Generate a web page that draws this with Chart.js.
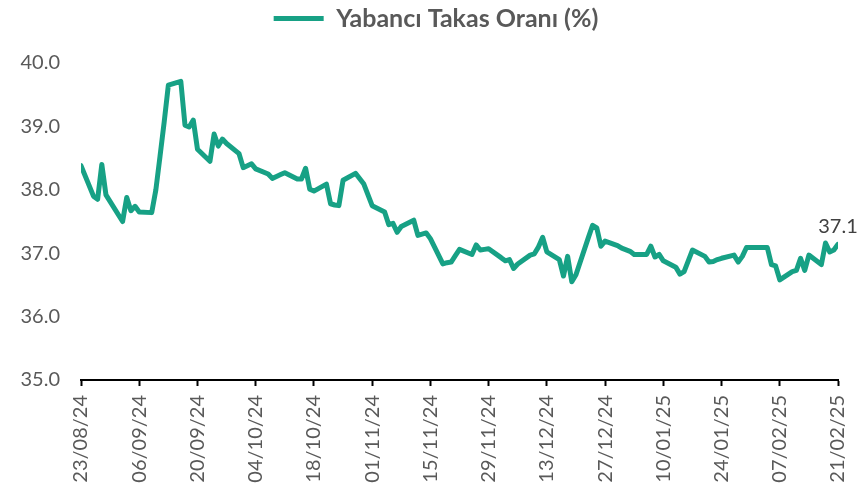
<!DOCTYPE html>
<html>
<head>
<meta charset="utf-8">
<script src="https://cdn.jsdelivr.net/npm/chart.js@4/dist/chart.umd.min.js"></script>
<style>
  html, body { margin: 0; padding: 0; background: #ffffff; }
  #wrap { width: 861px; height: 489px; }
</style>
</head>
<body>
<div id="wrap"><canvas id="c" width="861" height="489"></canvas></div>
<script>
// Day offsets from 23/08/24 (trading days)
const dayOffsets = [
  0,3,4,5,6,10,11,12,13,14,
  17,18,19,20,21,24,25,26,27,28,
  31,32,33,34,35,38,39,40,41,42,
  45,46,47,48,49,52,53,54,55,56,
  59,60,61,62,63,66,68,69,70,73,
  74,75,76,77,80,81,82,83,84,87,
  88,89,90,91,94,95,96,97,98,101,
  102,103,104,105,108,109,110,111,112,115,
  116,117,118,119,122,123,124,125,126,129,
  130,132,133,136,137,138,139,140,143,144,
  145,146,147,150,151,152,153,154,157,158,
  159,160,161,164,165,166,167,168,171,172,
  173,174,175,178,179,180,181,182
];
// Yabancı Takas Oranı (%)
const foreignShare = [
  38.38,37.90,37.85,38.40,37.92,37.50,37.88,37.67,37.74,37.65,
  37.64,38.00,38.53,39.07,39.65,39.71,39.02,38.99,39.10,38.64,
  38.45,38.88,38.69,38.80,38.73,38.57,38.35,38.38,38.41,38.33,
  38.25,38.18,38.21,38.24,38.27,38.17,38.17,38.34,38.01,37.98,
  38.09,37.78,37.76,37.75,38.15,38.26,38.09,37.92,37.75,37.65,
  37.45,37.47,37.33,37.42,37.52,37.28,37.30,37.32,37.23,36.83,
  36.85,36.86,36.96,37.06,36.98,37.13,37.05,37.06,37.07,36.93,
  36.88,36.90,36.76,36.83,36.97,36.99,37.10,37.25,37.02,36.90,
  36.64,36.95,36.55,36.66,37.25,37.44,37.40,37.11,37.19,37.12,
  37.08,37.03,36.98,36.98,37.11,36.94,36.98,36.88,36.78,36.67,
  36.71,36.88,37.05,36.95,36.86,36.87,36.90,36.92,36.97,36.86,
  36.95,37.09,37.09,37.09,37.09,36.82,36.80,36.58,36.71,36.73,
  36.92,36.73,36.97,36.82,37.16,37.02,37.05,37.14
];
const xTickLabels = ['23/08/24','06/09/24','20/09/24','04/10/24','18/10/24','01/11/24','15/11/24',
  '29/11/24','13/12/24','27/12/24','10/01/25','24/01/25','07/02/25','21/02/25'];
const yTicks = [35, 36, 37, 38, 39, 40];
const seriesName = 'Yabancı Takas Oranı (%)';
const lastLabel = '37.1';

const points = dayOffsets.map((d, i) => ({ x: d, y: foreignShare[i] }));
const TEAL = '#17a185';
const FONT = 'Lato, "Open Sans", sans-serif';

const legendSpace = {
  id: 'legendSpace',
  beforeInit(chart) {
    const origFit = chart.legend.fit;
    chart.legend.fit = function () {
      origFit.call(this);
      this.height += 22;
    };
  },
  afterLayout(chart) {
    chart.legend.left += 17;
    chart.legend.right += 17;
  }
};

const endLabel = {
  id: 'endLabel',
  afterDatasetsDraw(chart) {
    const meta = chart.getDatasetMeta(0);
    const pt = meta.data[meta.data.length - 1];
    const ctx = chart.ctx;
    ctx.save();
    ctx.font = '20px ' + FONT;
    ctx.fillStyle = '#404040';
    ctx.textAlign = 'center';
    ctx.textBaseline = 'alphabetic';
    ctx.fillText(lastLabel, pt.x, pt.y - 11);
    ctx.restore();
  }
};

new Chart(document.getElementById('c'), {
  type: 'line',
  data: {
    datasets: [{
      label: seriesName,
      data: points,
      borderColor: TEAL,
      backgroundColor: TEAL,
      borderWidth: 5,
      borderJoinStyle: 'round',
      borderCapStyle: 'round',
      pointRadius: 0,
      tension: 0,
      fill: false
    }]
  },
  options: {
    responsive: false,
    animation: false,
    layout: { padding: { left: 0, right: 23, top: 0, bottom: 0 } },
    plugins: {
      tooltip: { enabled: false },
      legend: {
        display: true,
        position: 'top',
        labels: {
          usePointStyle: true,
          pointStyle: 'line',
          pointStyleWidth: 50,
          boxHeight: 5,
          padding: 6,
          color: '#595959',
          font: { family: FONT, size: 25, weight: 'bold' }
        }
      }
    },
    scales: {
      x: {
        type: 'linear',
        min: 0,
        max: 182,
        afterBuildTicks(scale) {
          scale.ticks = xTickLabels.map((_, i) => ({ value: i * 14 }));
        },
        afterFit(scale) {
          scale.height = 109;
          scale.paddingLeft = 0;
          scale.paddingRight = 0;
        },
        grid: {
          display: true,
          drawOnChartArea: false,
          drawTicks: true,
          tickLength: 6,
          tickWidth: 2,
          tickColor: '#000000',
          color: '#000000'
        },
        border: { display: true, color: '#000000', width: 2 },
        ticks: {
          autoSkip: false,
          maxRotation: 90,
          minRotation: 90,
          padding: 9,
          color: '#595959',
          font: { family: FONT, size: 20 },
          callback(value) {
            const i = Math.round(value / 14);
            return xTickLabels[i];
          }
        }
      },
      y: {
        min: 35,
        max: 40,
        afterBuildTicks(scale) {
          scale.ticks = yTicks.map(v => ({ value: v }));
        },
        afterFit(scale) { scale.width = 81; },
        grid: { display: false, drawTicks: false },
        border: { display: false },
        ticks: {
          padding: 21,
          color: '#595959',
          font: { family: FONT, size: 20 },
          callback(value) { return Number(value).toFixed(1); }
        }
      }
    }
  },
  plugins: [legendSpace, endLabel]
});
</script>
</body>
</html>
